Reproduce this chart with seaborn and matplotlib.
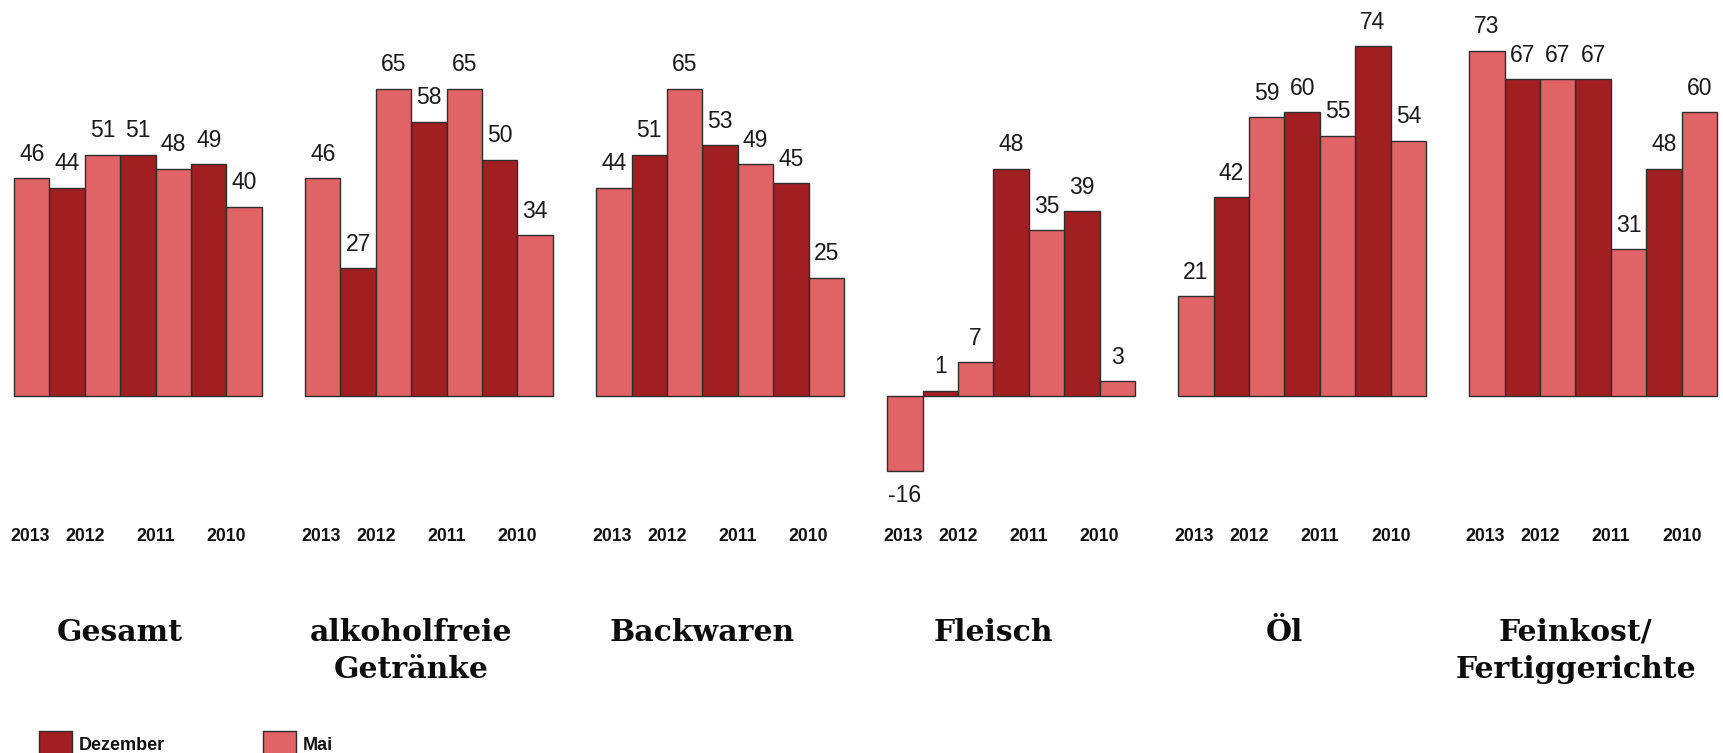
import numpy as np
import pandas as pd
import matplotlib
matplotlib.use("Agg")
import matplotlib.pyplot as plt
from matplotlib.patches import Rectangle
from matplotlib.transforms import blended_transform_factory
import seaborn as sns

# ---- data -------------------------------------------------------------
categories = ["Gesamt", "alkoholfreie\nGetränke", "Backwaren", "Fleisch",
              "Öl", "Feinkost/\nFertiggerichte"]
months = ["Mai", "Dezember", "Mai", "Dezember", "Mai", "Dezember", "Mai"]
periods = ["2013", "2012", "2012", "2011", "2011", "2010", "2010"]
year_labels = ["2013", "2012", "2011", "2010"]

gesamt = [46, 44, 51, 51, 48, 49, 40]
alkoholfreie = [46, 27, 65, 58, 65, 50, 34]
backwaren = [44, 51, 65, 53, 49, 45, 25]
fleisch = [-16, 1, 7, 48, 35, 39, 3]
oel = [21, 42, 59, 60, 55, 74, 54]
feinkost = [73, 67, 67, 67, 31, 48, 60]
series = [gesamt, alkoholfreie, backwaren, fleisch, oel, feinkost]

# ---- layout -----------------------------------------------------------
W, H, DPI = 1723, 753, 100
GROUP_STEP = 8.222          # distance between group starts, in bar widths
BAR_PX = 35.4               # pixel width of one bar
LEFT_PX = 14.0              # left edge of the first bar
BASE_PX = 395.5             # pixel row of the zero line
UNIT_PX = 4.72              # pixels per value unit
TITLE_BASE_PX = 641.0       # baseline of the first title line
TITLE_LINE_PX = 37.0        # distance between title lines
year_offsets = [0.45, 2.0, 4.0, 6.0]
title_offset = 3.0

DARK = "#A11F21"
LIGHT = "#E06365"
EDGE = "#2e2e2e"

rows = []
for g, (cat, vals) in enumerate(zip(categories, series)):
    for i, (m, p, v) in enumerate(zip(months, periods, vals)):
        rows.append({"Kategorie": cat, "Monat": m, "Jahr": p,
                     "Wert": v, "pos": g * GROUP_STEP + i + 0.5})
df = pd.DataFrame(rows)

sns.set_theme(style="white")
plt.rcParams["font.family"] = ["Liberation Sans", "DejaVu Sans"]

fig = plt.figure(figsize=(W / DPI, H / DPI), dpi=DPI)
ax = fig.add_axes([0, 0, 1, 1])

sns.barplot(data=df, x="pos", y="Wert", hue="Monat",
            hue_order=["Dezember", "Mai"],
            palette={"Dezember": DARK, "Mai": LIGHT},
            native_scale=True, width=1.0, dodge=False, errorbar=None,
            edgecolor=EDGE, linewidth=1.0, saturation=1.0,
            legend=False, ax=ax)

for cont in ax.containers:
    ax.bar_label(cont, fmt="{:.0f}", padding=9, fontsize=16.5,
                 color="#1a1a1a")

ax.set_xlim(-LEFT_PX / BAR_PX, (W - LEFT_PX) / BAR_PX)
ax.set_ylim((BASE_PX - H) / UNIT_PX, BASE_PX / UNIT_PX)
ax.set_axis_off()

trans = blended_transform_factory(ax.transData, ax.transAxes)
for g, cat in enumerate(categories):
    x0 = g * GROUP_STEP
    for off, yr in zip(year_offsets, year_labels):
        ax.text(x0 + off, 1 - 536.5 / H, yr, transform=trans,
                ha="center", va="center", fontsize=12.7,
                fontweight="bold", color="#111111")
    # baseline alignment refers to the last line of a multi-line title
    n_lines = cat.count("\n") + 1
    y_px = TITLE_BASE_PX + TITLE_LINE_PX * (n_lines - 1)
    ax.text(x0 + title_offset, 1 - y_px / H, cat, transform=trans,
            ha="center", va="baseline", multialignment="center",
            fontsize=21.5, fontweight="bold", family="DejaVu Serif",
            color="#0d0d0d", linespacing=1.35)

# legend
for x_px, label, color in [(38.5, "Dezember", DARK), (262.5, "Mai", LIGHT)]:
    fig.add_artist(Rectangle((x_px / W, (H - 766) / H), 33.7 / W, 35.3 / H,
                             transform=fig.transFigure, facecolor=color,
                             edgecolor=EDGE, linewidth=1.0))
    fig.text((x_px + 40.5) / W, 2.5 / H, label, ha="left", va="baseline",
             fontsize=13, fontweight="bold", color="#111111")

fig.savefig("out.png", dpi=DPI, facecolor="white")
